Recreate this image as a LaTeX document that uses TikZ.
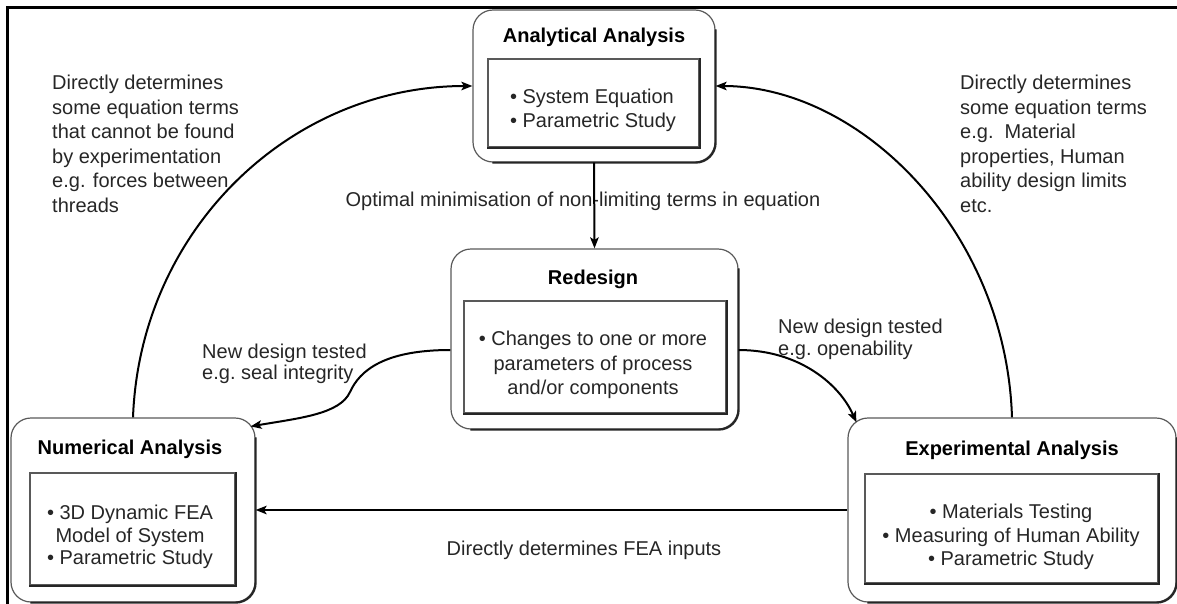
\documentclass[tikz,border=0pt]{standalone}
\usepackage{fontspec}
\setmainfont{Liberation Sans}
\usetikzlibrary{arrows.meta}
\begin{document}
\begin{tikzpicture}[x=1pt,y=-1pt,
  every node/.style={font=\fontsize{20}{24.5}\selectfont, inner sep=0pt, text=black!85},
  obox/.style={draw=black!65, line width=1.2pt, rounded corners=20pt},
  ibox/.style={draw=black!65, line width=1.2pt},
  ttl/.style={font=\fontsize{20}{24}\selectfont\bfseries, text=black},
  conn/.style={line width=2pt, black, -{Stealth[length=11pt,width=8.5pt,inset=2.5pt]}},
  shd/.style={line width=2.2pt, black!85},
  side/.style={align=left, anchor=west},
]
\useasboundingbox (0,0) rectangle (1177,603);
% frame
\draw[line width=3pt, black] (7,606) -- (7,7) -- (1182,7);

% outer boxes
\node[obox, minimum width=242pt, minimum height=152pt] (ana) at (594,86) {};
\node[obox, minimum width=287pt, minimum height=180pt] (red) at (594.5,339) {};
\node[obox, minimum width=244pt, minimum height=184pt] (num) at (133,510) {};
\node[obox, minimum width=328pt, minimum height=184pt] (exp) at (1012,510) {};

% inner boxes
\node[ibox, minimum width=211pt, minimum height=88pt] (anaI) at (593.5,103) {};
\node[ibox, minimum width=262pt, minimum height=112pt] (redI) at (595,357) {};
\node[ibox, minimum width=205pt, minimum height=112pt] (numI) at (132.5,529) {};
\node[ibox, minimum width=293pt, minimum height=109pt] (expI) at (1011.5,528.5) {};

% shadow edges
\foreach \n in {ana,red,num,exp}{
  \draw[shd] ([yshift=-20pt]\n.north east) -- ([yshift=20pt]\n.south east)
    arc[start angle=0,end angle=-90,radius=20pt] -- ([xshift=20pt]\n.south west);
}
\foreach \n in {anaI,redI,numI,expI}{
  \draw[shd] (\n.north east) -- (\n.south east) -- (\n.south west);
}

% titles
\node[ttl] (anaT) at (594,37) {Analytical Analysis};
\node[ttl] (redT) at (593,279) {Redesign};
\node[ttl] (numT) at (130,449) {Numerical Analysis};
\node[ttl] (expT) at (1012,450) {Experimental Analysis};

% box texts
\node[align=left, font=\fontsize{20}{24}\selectfont] (anaB) at (593,110) {• System Equation\\• Parametric Study};
\node[align=center] (redB) at (593,365) {• Changes to one or more\\parameters of process\\and/or components};
\node[align=center, font=\fontsize{20}{22.5}\selectfont] (numB) at (130,537) {• 3D Dynamic FEA\\Model of System\\• Parametric Study};
\node[align=center, font=\fontsize{20}{23.5}\selectfont] (expB) at (1011,537) {• Materials Testing\\• Measuring of Human Ability\\• Parametric Study};

% side texts
\node[side] (leftT) at (52,144) {Directly determines\\some equation terms\\that cannot be found\\by experimentation\\e.g. forces between\\threads};
\node[side] (rightT) at (960,144) {Directly determines\\some equation terms\\e.g.\ \ Material\\properties, Human\\ability design limits\\etc.};
\node (optT) at (583,201) {Optimal minimisation of non-limiting terms in equation};
\node[side, font=\fontsize{20}{21}\selectfont] (sealT) at (202,364) {New design tested\\e.g.\ seal integrity};
\node[side, font=\fontsize{20}{22}\selectfont] (openT) at (778,339) {New design tested\\e.g.\ openability};
\node (feaT) at (584,550) {Directly determines FEA inputs};

% connectors
\draw[conn] (ana.south) -- (red.north);
\draw[conn] (num.north) .. controls (140,230) and (290,86) .. (ana.west);
\draw[conn] (exp.north) .. controls (1006,230) and (860,86) .. (ana.east);
\coordinate (sealS) at ([yshift=-11pt]red.west);
\coordinate (sealM) at (350,392);
\coordinate (sealE) at ([shift={(-5,9)}]num.north east);
\draw[conn] (sealS) .. controls (385,350) and (360,370) .. (sealM) .. controls (340,414) and (300,418) .. (sealE);
\coordinate (openS) at ([yshift=-11pt]red.east);
\coordinate (openE) at ([shift={(9,5)}]exp.north west);
\draw[conn] (openS) .. controls (800,350) and (840,385) .. (openE);
\draw[conn] (exp.west) -- (num.east);
\end{tikzpicture}
\end{document}
